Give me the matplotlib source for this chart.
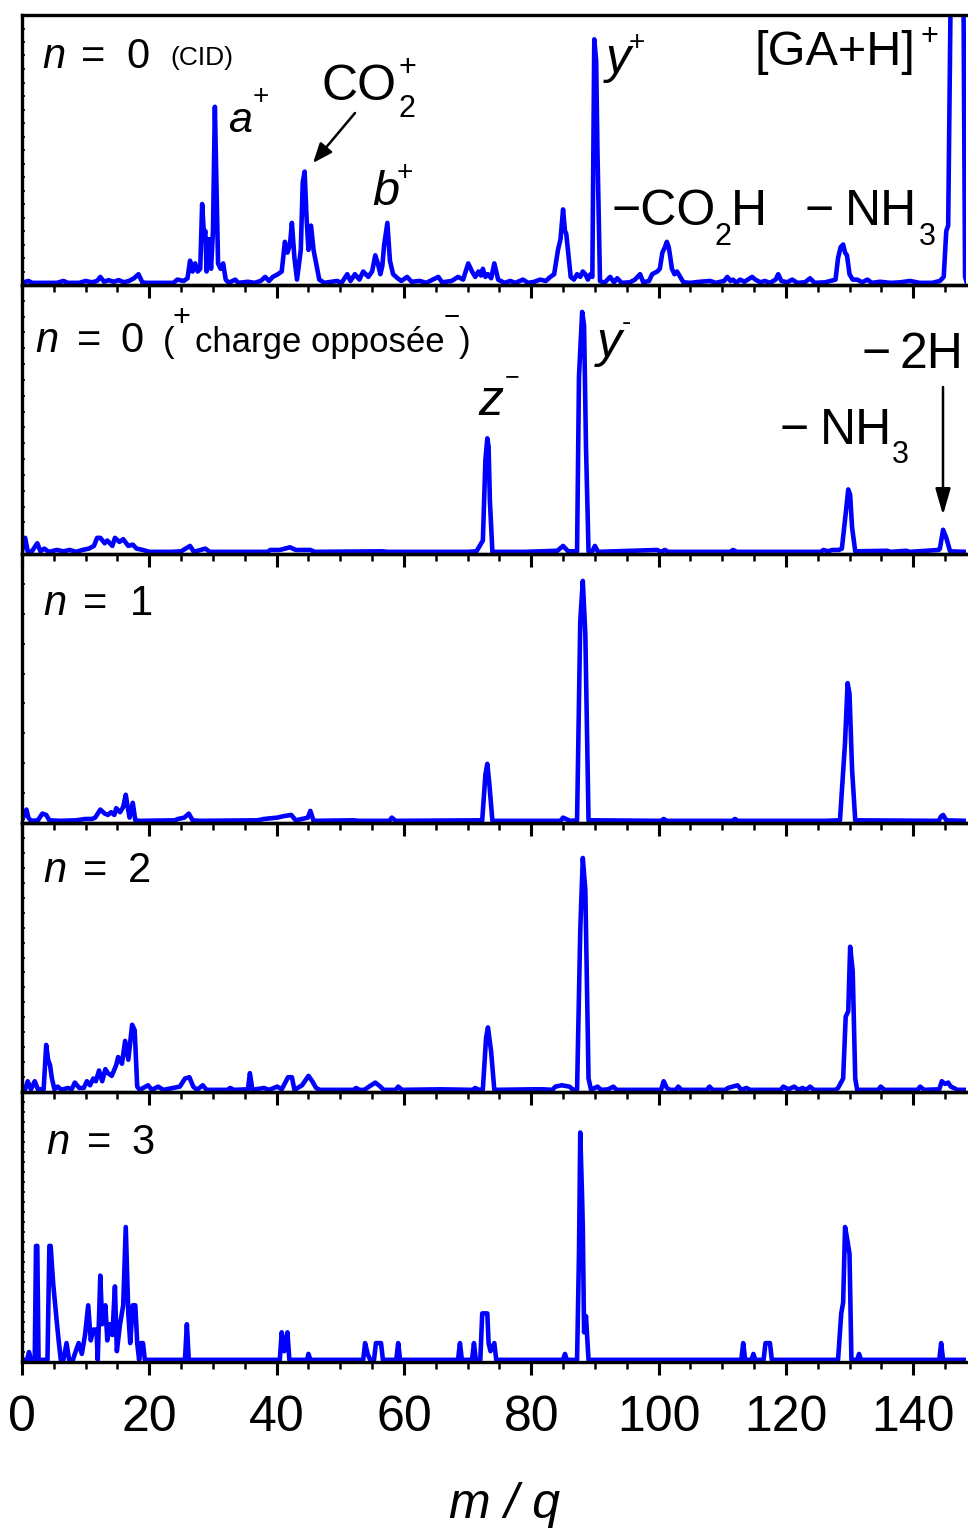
import numpy as np
import matplotlib
matplotlib.use("Agg")
import matplotlib.pyplot as plt
from matplotlib.ticker import MultipleLocator
from matplotlib.patches import FancyArrowPatch

plt.rcParams['font.family'] = 'Liberation Sans'

W, H = 968, 1528

# spectra: (m/q, intensity in % of the panel height)
spec_cid = [(0.0, 0.8), (1.0, 1.5), (1.6, 0.8), (5.5, 0.8), (6.5, 1.5), (7.2, 0.8), (9.0, 0.8), (10.0, 1.5),
            (11.0, 1.0), (11.8, 1.5), (12.3, 3.0), (12.9, 1.2), (13.6, 1.8), (14.4, 1.2), (15.2, 1.8), (16.0, 1.0),
            (16.8, 1.5), (17.6, 2.5), (18.3, 4.0), (18.9, 1.0), (19.5, 0.8), (23.8, 0.8), (24.4, 2.0), (25.4, 1.5),
            (26.0, 2.5), (26.4, 9.0), (26.8, 5.0), (27.2, 8.0), (27.6, 5.0), (28.0, 6.0), (28.3, 30.0), (28.6, 18.0),
            (28.8, 20.0), (29.0, 5.0), (29.4, 17.0), (29.7, 6.0), (30.0, 20.0), (30.3, 66.0), (30.6, 30.0), (30.8, 8.0),
            (31.2, 6.0), (31.6, 8.0), (32.0, 2.0), (32.5, 0.8), (33.5, 2.0), (34.0, 0.8), (35.5, 1.2), (36.5, 0.8),
            (37.5, 1.5), (38.2, 3.0), (38.8, 1.5), (39.4, 3.0), (40.2, 4.0), (40.8, 5.0), (41.3, 16.0), (41.7, 12.0),
            (42.1, 15.0), (42.4, 23.0), (42.8, 10.0), (43.2, 2.0), (43.8, 13.0), (44.1, 38.0), (44.4, 42.0),
            (44.7, 25.0), (45.0, 13.0), (45.4, 22.0), (45.8, 13.0), (46.3, 7.0), (46.7, 2.0), (47.5, 0.8), (49.5, 1.5),
            (50.2, 0.8), (51.1, 4.0), (51.6, 1.5), (52.3, 4.0), (53.0, 2.0), (53.6, 5.0), (54.4, 3.0), (55.0, 5.0),
            (55.5, 11.0), (55.9, 8.0), (56.3, 4.0), (56.6, 7.0), (56.9, 15.0), (57.4, 23.0), (57.8, 9.0), (58.3, 4.0),
            (59.0, 2.5), (59.6, 1.5), (60.5, 3.0), (61.2, 1.2), (62.5, 1.5), (63.5, 0.8), (65.4, 3.0), (66.0, 1.0),
            (67.5, 1.5), (68.5, 3.0), (69.3, 2.0), (70.1, 8.0), (70.7, 5.0), (71.2, 3.0), (71.7, 5.0), (72.1, 3.5),
            (72.4, 6.0), (72.8, 3.0), (73.2, 4.0), (73.7, 2.5), (74.2, 8.0), (74.8, 2.0), (75.8, 0.8), (76.7, 1.5),
            (77.5, 0.8), (78.7, 2.0), (79.5, 0.8), (80.5, 1.2), (81.4, 2.0), (82.3, 1.5), (83.0, 3.0), (83.6, 4.0),
            (84.2, 13.0), (84.6, 17.0), (85.0, 28.0), (85.3, 20.0), (85.5, 19.0), (85.8, 12.0), (86.2, 3.0),
            (86.7, 2.0), (87.2, 4.0), (87.7, 3.0), (88.1, 5.0), (88.5, 4.0), (88.9, 2.0), (89.3, 4.0), (89.6, 3.0),
            (89.9, 91.0), (90.2, 83.0), (90.4, 50.0), (90.8, 1.5), (91.5, 0.8), (92.4, 3.0), (93.0, 1.0), (93.5, 2.5),
            (94.2, 0.8), (95.5, 1.0), (96.3, 2.0), (97.1, 4.0), (97.6, 1.0), (98.5, 1.5), (99.0, 4.0), (99.8, 5.0),
            (100.2, 6.0), (100.6, 12.0), (101.0, 14.0), (101.3, 16.0), (101.6, 14.0), (101.8, 11.0), (102.1, 6.0),
            (102.5, 4.0), (102.9, 5.0), (103.4, 3.0), (103.9, 1.0), (105.0, 0.8), (106.5, 1.2), (108.1, 1.5),
            (109.0, 0.8), (110.3, 1.5), (110.8, 3.0), (111.3, 1.5), (111.7, 2.0), (112.2, 0.8), (112.8, 2.0),
            (113.5, 1.2), (114.7, 3.0), (115.2, 2.0), (116.0, 1.0), (116.7, 1.5), (117.5, 0.8), (118.4, 2.0),
            (118.8, 4.0), (119.3, 1.5), (120.2, 1.0), (121.0, 2.0), (121.8, 0.8), (123.0, 1.0), (123.8, 2.5),
            (124.5, 0.8), (126.2, 1.0), (127.0, 1.5), (127.8, 2.0), (128.2, 10.0), (128.6, 14.0), (129.0, 15.0),
            (129.3, 12.0), (129.6, 11.0), (130.0, 4.0), (130.5, 2.0), (131.2, 2.0), (132.0, 1.0), (132.8, 2.0),
            (133.5, 0.8), (134.8, 1.2), (136.5, 0.8), (138.0, 1.0), (139.5, 1.5), (141.0, 0.8), (143.0, 0.8),
            (144.2, 1.5), (144.8, 3.0), (145.2, 20.0), (145.5, 22.0), (145.9, 110.0), (147.9, 110.0), (148.15, 3.0),
            (148.4, 1.0)]

spec_opp = [(0.0, 1.0), (0.5, 6.0), (0.9, 1.0), (1.5, 0.8), (2.4, 4.0), (2.9, 1.0), (3.5, 2.0), (4.2, 0.8),
            (5.5, 1.5), (6.5, 1.0), (7.5, 1.5), (8.5, 0.8), (9.5, 1.5), (10.5, 2.0), (11.3, 3.0), (11.8, 6.0),
            (12.3, 6.0), (13.0, 4.0), (13.4, 5.0), (14.2, 3.0), (14.6, 6.0), (15.3, 4.5), (15.9, 5.5), (16.7, 3.0),
            (17.4, 3.5), (18.0, 2.0), (19.0, 1.5), (20.0, 0.8), (23.5, 0.8), (25.0, 1.0), (26.4, 3.0), (27.0, 0.8),
            (28.8, 2.0), (29.5, 0.8), (35.0, 0.8), (38.6, 0.8), (39.0, 1.5), (40.5, 1.5), (42.1, 2.5), (43.0, 1.5),
            (45.3, 1.5), (46.0, 0.8), (56.5, 1.0), (57.5, 0.8), (70.0, 0.8), (71.4, 1.0), (72.4, 5.0), (72.8, 35.0),
            (73.1, 43.0), (73.3, 40.0), (73.5, 20.0), (73.9, 0.8), (79.0, 0.8), (84.1, 1.2), (85.0, 3.0), (85.8, 1.0),
            (87.2, 1.0), (87.5, 66.0), (88.0, 90.0), (88.3, 85.0), (88.6, 40.0), (89.0, 1.0), (89.6, 1.0),
            (90.0, 3.0), (90.5, 0.8), (99.8, 1.5), (100.3, 0.8), (101.0, 1.5), (101.5, 0.8), (111.3, 0.8),
            (111.7, 1.5), (112.3, 0.8), (125.5, 0.8), (125.9, 1.5), (126.6, 1.0), (127.3, 1.5), (128.3, 1.5),
            (128.8, 2.0), (129.4, 15.0), (129.8, 24.0), (130.1, 22.0), (130.4, 10.0), (130.9, 1.0), (135.9, 1.2),
            (136.5, 0.8), (138.9, 1.2), (139.5, 0.8), (144.0, 1.5), (144.2, 2.0), (144.7, 9.0), (145.2, 6.0),
            (145.8, 1.0), (148.3, 0.8)]

spec_n1 = [(0.0, 1.0), (0.7, 5.0), (1.0, 2.0), (1.4, 0.8), (2.5, 1.0), (3.2, 3.5), (3.8, 3.0), (4.3, 1.0),
           (6.0, 0.8), (8.5, 1.0), (10.0, 1.5), (11.0, 1.5), (11.5, 2.0), (12.3, 5.0), (13.0, 3.5), (13.5, 3.0),
           (14.0, 4.0), (14.5, 3.0), (14.8, 5.5), (15.4, 4.0), (15.9, 6.0), (16.3, 10.5), (16.6, 6.0), (16.9, 2.0),
           (17.4, 7.5), (17.8, 1.0), (18.5, 0.8), (24.0, 1.0), (24.5, 1.5), (25.5, 2.0), (26.2, 3.5), (26.8, 1.0),
           (28.0, 0.8), (37.0, 1.0), (38.0, 1.5), (40.1, 2.0), (41.0, 2.5), (42.3, 3.0), (43.0, 1.0), (44.0, 1.5),
           (44.9, 2.0), (45.3, 4.5), (45.8, 0.8), (52.0, 1.0), (53.0, 0.8), (57.7, 0.8), (58.1, 2.0), (58.7, 0.8),
           (72.3, 1.0), (72.8, 18.0), (73.1, 22.0), (73.4, 15.0), (73.9, 0.8), (84.6, 0.8), (85.0, 2.0), (86.1, 0.8),
           (87.2, 1.0), (87.7, 75.0), (88.1, 90.0), (88.5, 70.0), (89.0, 1.0), (89.7, 1.0), (100.4, 0.8),
           (100.8, 1.5), (101.3, 0.8), (111.6, 0.8), (112.0, 1.5), (112.5, 0.8), (126.2, 0.8), (128.5, 1.0),
           (129.3, 30.0), (129.7, 52.0), (130.0, 48.0), (130.4, 20.0), (130.9, 1.0), (144.0, 0.8), (144.4, 2.5),
           (144.7, 3.0), (145.2, 1.0), (148.3, 0.8)]

spec_n2 = [(0.0, 1.0), (0.5, 1.0), (0.9, 4.0), (1.4, 1.0), (2.0, 4.0), (2.5, 1.0), (3.4, 1.0), (3.8, 17.5),
           (4.1, 12.0), (4.4, 10.0), (4.7, 5.0), (5.1, 1.0), (5.6, 2.0), (6.2, 0.8), (7.2, 1.5), (7.8, 1.0),
           (8.3, 3.5), (9.0, 1.5), (9.7, 1.5), (10.2, 4.0), (10.7, 2.5), (11.2, 5.0), (11.6, 4.0), (12.1, 8.0),
           (12.6, 4.0), (13.1, 8.5), (13.5, 7.0), (14.1, 6.0), (14.8, 10.0), (15.1, 13.0), (15.7, 10.5),
           (16.2, 19.0), (16.7, 12.0), (17.3, 25.0), (17.7, 23.0), (18.1, 2.0), (18.5, 0.8), (19.8, 2.5),
           (20.4, 0.8), (21.4, 2.0), (22.2, 0.8), (24.8, 2.0), (25.6, 5.0), (26.3, 5.5), (26.9, 2.0), (27.5, 0.8),
           (28.4, 2.5), (29.0, 0.8), (32.3, 0.8), (32.7, 1.5), (33.3, 0.8), (35.5, 1.0), (35.8, 7.0), (36.2, 0.8),
           (38.0, 1.5), (38.8, 0.8), (40.1, 2.0), (40.8, 1.0), (41.8, 5.5), (42.4, 5.5), (42.8, 0.8), (44.0, 2.5),
           (45.0, 6.0), (45.6, 4.0), (46.2, 1.5), (46.8, 0.8), (52.1, 0.8), (52.5, 1.5), (53.0, 0.8), (53.8, 0.8),
           (54.2, 1.5), (55.5, 3.5), (56.3, 2.0), (56.8, 0.8), (58.7, 0.8), (59.1, 2.0), (59.7, 0.8), (65.7, 1.0),
           (70.8, 0.8), (71.2, 1.5), (71.8, 0.8), (72.4, 1.0), (72.9, 20.0), (73.2, 24.0), (73.7, 15.0),
           (74.2, 0.8), (80.3, 1.0), (81.9, 1.0), (83.3, 0.8), (83.8, 2.0), (84.8, 2.5), (86.0, 2.0), (86.6, 0.8),
           (87.2, 1.0), (87.7, 60.0), (88.1, 87.0), (88.5, 75.0), (89.0, 5.0), (89.4, 0.8), (90.4, 2.0),
           (91.0, 0.8), (92.1, 1.0), (92.9, 2.0), (93.4, 0.8), (100.4, 0.8), (100.8, 4.0), (101.3, 1.5),
           (101.8, 0.8), (102.7, 0.8), (103.1, 2.0), (103.6, 0.8), (107.6, 0.8), (108.0, 2.0), (108.5, 0.8),
           (110.5, 0.8), (110.9, 1.5), (112.4, 2.5), (113.0, 0.8), (113.8, 1.5), (114.4, 0.8), (119.2, 0.8),
           (119.6, 2.0), (120.4, 1.0), (121.3, 2.0), (122.0, 0.8), (122.6, 1.5), (123.2, 0.8), (123.8, 2.0),
           (124.4, 0.8), (127.8, 0.8), (128.2, 1.5), (129.0, 5.0), (129.4, 28.0), (129.8, 30.0), (130.1, 54.0),
           (130.5, 45.0), (130.9, 5.0), (131.2, 0.8), (134.5, 0.8), (134.9, 2.0), (135.5, 0.8), (140.7, 0.8),
           (141.1, 2.0), (141.7, 0.8), (144.1, 1.0), (144.5, 4.0), (145.0, 3.0), (145.5, 3.5), (145.9, 2.0),
           (146.4, 1.5), (146.9, 0.8), (148.3, 0.8)]

spec_n3 = [(0.0, 0.8), (0.8, 0.8), (1.1, 3.7), (1.4, 0.8), (2.0, 0.8), (2.2, 43.0), (2.4, 43.0), (2.6, 0.8),
           (4.0, 0.8), (4.3, 43.0), (4.5, 43.0), (4.9, 29.0), (5.5, 14.0), (5.8, 7.0), (6.1, 0.8), (6.5, 0.8),
           (7.0, 7.0), (7.4, 0.8), (8.0, 0.8), (8.3, 3.0), (8.9, 7.0), (9.4, 3.0), (9.9, 10.0), (10.4, 21.0),
           (10.8, 8.0), (11.2, 12.0), (11.7, 12.0), (11.9, 0.8), (12.3, 32.0), (12.6, 14.0), (13.1, 21.0),
           (13.4, 8.0), (13.8, 14.0), (14.2, 10.0), (14.6, 28.0), (14.9, 4.0), (15.4, 14.0), (15.9, 21.0),
           (16.3, 50.0), (16.7, 18.0), (17.0, 7.0), (17.4, 21.0), (17.8, 21.0), (18.1, 7.0), (18.4, 0.8),
           (18.7, 7.0), (19.0, 7.0), (19.3, 0.8), (25.6, 0.8), (25.9, 14.0), (26.2, 0.8), (40.5, 0.8), (40.8, 11.0),
           (41.2, 4.0), (41.7, 11.0), (42.0, 0.8), (44.8, 0.8), (45.0, 3.0), (45.3, 0.8), (53.6, 0.8), (53.9, 7.0),
           (54.3, 3.0), (54.7, 0.8), (55.3, 0.8), (55.6, 7.0), (56.4, 7.0), (56.7, 0.8), (58.8, 0.8), (59.1, 7.0),
           (59.4, 0.8), (68.5, 0.8), (68.8, 7.0), (69.1, 0.8), (70.7, 0.8), (71.0, 7.0), (71.3, 0.8), (72.0, 0.8),
           (72.3, 18.0), (73.1, 18.0), (73.3, 7.0), (73.6, 4.0), (74.2, 7.0), (74.5, 0.8), (85.0, 0.8), (85.3, 3.0),
           (85.6, 0.8), (87.2, 0.8), (87.5, 40.0), (87.7, 85.0), (88.0, 60.0), (88.1, 50.0), (88.3, 11.0),
           (88.6, 17.0), (89.0, 0.8), (113.0, 0.8), (113.3, 7.0), (113.6, 0.8), (114.6, 0.8), (114.9, 3.0),
           (115.2, 0.8), (116.5, 0.8), (116.8, 7.0), (117.5, 7.0), (117.8, 0.8), (128.2, 0.8), (128.7, 18.0),
           (129.0, 22.0), (129.3, 50.0), (129.6, 46.0), (130.0, 40.0), (130.3, 0.8), (131.2, 0.8), (131.5, 3.0),
           (131.8, 0.8), (144.1, 0.8), (144.4, 7.0), (144.7, 0.8), (148.3, 0.8)]

spectra = [spec_cid, spec_opp, spec_n1, spec_n2, spec_n3]
n_values = ['0', '0', '1', '2', '3']
xticks = [0, 20, 40, 60, 80, 100, 120, 140]

# panel edges in pixels (top, bottom) and left-axis minor tick counts
edges = [(15, 285), (285, 554), (554, 823), (823, 1092), (1092, 1362)]
ytick_counts = [20, 17, 9, 18, 27]

fig = plt.figure(figsize=(W / 100, H / 100), dpi=100)


def fpos(x, y):
    return x / W, 1 - y / H


def txt(x, y, s, size, style='normal', ha='left'):
    fx, fy = fpos(x, y)
    fig.text(fx, fy, s, fontsize=size, fontstyle=style, ha=ha, va='baseline')


axes = []
for i, (top, bot) in enumerate(edges):
    ax = fig.add_axes([22 / W, 1 - bot / H, 944 / W, (bot - top) / H])
    ax.set_facecolor('none')
    mz, inten = np.array(spectra[i]).T
    ax.plot(mz, inten, color='#0000ff', lw=3.3, solid_joinstyle='round', zorder=2)
    ax.set_xlim(0, 148.3)
    ax.set_ylim(0, 100)
    ax.xaxis.set_major_locator(MultipleLocator(20))
    ax.xaxis.set_minor_locator(MultipleLocator(5))
    ax.tick_params(axis='x', which='major', direction='out', length=9.5, width=2.2)
    ax.tick_params(axis='x', which='minor', direction='out', length=5, width=1.8)
    ax.set_yticks([])
    ax.set_yticks(np.linspace(0, 100, ytick_counts[i] + 1)[1:-1], minor=True)
    ax.tick_params(axis='y', which='minor', direction='in', length=2.5, width=1.2)
    for side in ['left', 'bottom', 'top']:
        ax.spines[side].set_linewidth(2.4)
        ax.spines[side].set_zorder(3)
    ax.spines['right'].set_visible(False)
    if i < 4:
        ax.tick_params(axis='x', labelbottom=False)
    else:
        ax.set_xticks(xticks)
        ax.tick_params(axis='x', which='major', labelsize=36, pad=14)
    axes.append(ax)

# panel labels  n = ...
label_pos = [(42, 81, 126, 68), (35, 77, 120, 352), (43, 83, 130, 615), (43, 83, 128, 882), (46, 87, 131, 1154)]
for (xn, xeq, xv, yb), v in zip(label_pos, n_values):
    txt(xn, yb, 'n', 30, 'italic')
    txt(xeq, yb, '=', 30)
    txt(xv, yb, v, 30)

# panel 1 annotations
txt(170, 65, '(CID)', 19)
txt(228, 132, 'a', 31, 'italic')
txt(253, 104, '+', 20)
txt(322, 100, 'CO', 36)
txt(398, 76, '+', 22)
txt(398, 117, '2', 22)
txt(372, 205, 'b', 35, 'italic')
txt(397, 180, '+', 20)
txt(606, 73, 'y', 36, 'italic')
txt(629, 50, '+', 20)
txt(755, 65, '[GA+H]', 35)
txt(921, 45, '+', 22)
txt(612, 225, '\u2212CO', 36)
txt(714, 245, '2', 22)
txt(731, 225, 'H', 36)
txt(805, 225, '\u2212', 36)
txt(845, 225, 'NH', 36)
txt(919, 245, '3', 22)

# panel 2 annotations
txt(163, 352, '(', 25)
txt(173, 326, '+', 22)
txt(195, 352, 'charge oppos\u00e9e', 25)
txt(444, 325, '\u2212', 20)
txt(459, 352, ')', 25)
txt(478, 415, 'z', 36, 'italic')
txt(505, 384, '\u2212', 18)
txt(597, 357, 'y', 36, 'italic')
txt(622, 330, '-', 20)
txt(862, 368, '\u2212', 36)
txt(900, 368, '2H', 36)
txt(780, 444, '\u2212', 36)
txt(820, 444, 'NH', 36)
txt(892, 463, '3', 22)

# arrows
for (xa, ya), (xb, yb), hl, hw in [((355, 113), (313, 163), 0.6, 0.24), ((943, 387), (943, 515), 0.8, 0.23)]:
    arr = FancyArrowPatch(fpos(xa, ya), fpos(xb, yb), transform=fig.transFigure,
                          arrowstyle=f'-|>,head_length={hl},head_width={hw}', mutation_scale=20,
                          lw=1.8, color='black', shrinkA=0, shrinkB=0)
    fig.add_artist(arr)

# x axis title
txt(504, 1518, 'm / q', 36, 'italic', ha='center')

fig.savefig('out.png', dpi=100)
